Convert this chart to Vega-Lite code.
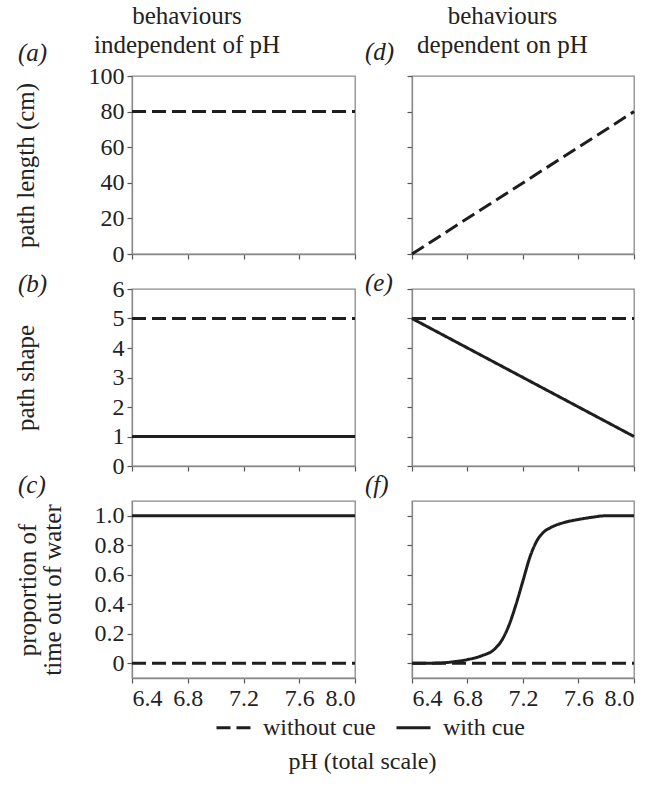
{
  "$schema": "https://vega.github.io/schema/vega-lite/v6.json",
  "background": "white",
  "padding": {"left": 12, "top": 3, "right": 5, "bottom": 5},
  "datasets": {
    "d": [
      {"panel": "a", "cue": "without cue", "ph": 6.4, "value": 80},
      {"panel": "a", "cue": "without cue", "ph": 8.0, "value": 80},
      {"panel": "b", "cue": "without cue", "ph": 6.4, "value": 5},
      {"panel": "b", "cue": "without cue", "ph": 8.0, "value": 5},
      {"panel": "b", "cue": "with cue", "ph": 6.4, "value": 1},
      {"panel": "b", "cue": "with cue", "ph": 8.0, "value": 1},
      {"panel": "c", "cue": "without cue", "ph": 6.4, "value": 0},
      {"panel": "c", "cue": "without cue", "ph": 8.0, "value": 0},
      {"panel": "c", "cue": "with cue", "ph": 6.4, "value": 1},
      {"panel": "c", "cue": "with cue", "ph": 8.0, "value": 1},
      {"panel": "d", "cue": "without cue", "ph": 6.4, "value": 0},
      {"panel": "d", "cue": "without cue", "ph": 8.0, "value": 80},
      {"panel": "e", "cue": "without cue", "ph": 6.4, "value": 5},
      {"panel": "e", "cue": "without cue", "ph": 8.0, "value": 5},
      {"panel": "e", "cue": "with cue", "ph": 6.4, "value": 5},
      {"panel": "e", "cue": "with cue", "ph": 8.0, "value": 1},
      {"panel": "f", "cue": "without cue", "ph": 6.4, "value": 0},
      {"panel": "f", "cue": "without cue", "ph": 8.0, "value": 0},
      {"panel": "f", "cue": "with cue", "ph": 6.4, "value": 0},
      {"panel": "f", "cue": "with cue", "ph": 6.5, "value": 0},
      {"panel": "f", "cue": "with cue", "ph": 6.6, "value": 0.002},
      {"panel": "f", "cue": "with cue", "ph": 6.7, "value": 0.01},
      {"panel": "f", "cue": "with cue", "ph": 6.8, "value": 0.025},
      {"panel": "f", "cue": "with cue", "ph": 6.9, "value": 0.05},
      {"panel": "f", "cue": "with cue", "ph": 7.0, "value": 0.1},
      {"panel": "f", "cue": "with cue", "ph": 7.05, "value": 0.16},
      {"panel": "f", "cue": "with cue", "ph": 7.1, "value": 0.26},
      {"panel": "f", "cue": "with cue", "ph": 7.15, "value": 0.4},
      {"panel": "f", "cue": "with cue", "ph": 7.2, "value": 0.56},
      {"panel": "f", "cue": "with cue", "ph": 7.25, "value": 0.72},
      {"panel": "f", "cue": "with cue", "ph": 7.3, "value": 0.83},
      {"panel": "f", "cue": "with cue", "ph": 7.35, "value": 0.89},
      {"panel": "f", "cue": "with cue", "ph": 7.4, "value": 0.92},
      {"panel": "f", "cue": "with cue", "ph": 7.5, "value": 0.955},
      {"panel": "f", "cue": "with cue", "ph": 7.6, "value": 0.975},
      {"panel": "f", "cue": "with cue", "ph": 7.7, "value": 0.99},
      {"panel": "f", "cue": "with cue", "ph": 7.8, "value": 1.0},
      {"panel": "f", "cue": "with cue", "ph": 8.0, "value": 1.0}
    ]
  },
  "config": {
    "font": "Liberation Serif",
    "view": {"stroke": "#8a8a8a", "strokeWidth": 1.3},
    "axis": {
      "labelFont": "Liberation Serif", "labelFontSize": 24, "labelColor": "#222",
      "titleFont": "Liberation Serif", "titleFontSize": 25, "titleFontWeight": "normal", "titleColor": "#222",
      "domainColor": "#8a8a8a", "domainWidth": 1.3, "tickColor": "#555", "tickSize": 5, "tickWidth": 1.2,
      "grid": false, "labelPadding": 3
    },
    "title": {"font": "Liberation Serif", "fontSize": 25, "fontWeight": "normal", "color": "#222"},
    "legend": {
      "labelFont": "Liberation Serif", "labelFontSize": 24, "labelColor": "#222"
    },
    "line": {"strokeWidth": 3, "color": "#1e1e1e"}
  },
  "title": {"text": "pH (total scale)", "orient": "bottom", "anchor": "middle", "fontSize": 24, "offset": 10, "dx": 36},
  "spacing": 2,
  "hconcat": [
    {
      "title": {"text": ["behaviours", "independent of pH"], "anchor": "middle", "lineHeight": 29, "offset": -18},
      "bounds": "flush",
      "spacing": 35,
      "vconcat": [
        {
          "width": 223, "height": 178,
          "title": {"text": "(a)", "anchor": "start", "frame": "group", "dx": -114, "dy": 6, "fontStyle": "italic"},
          "data": {"name": "d"},
          "transform": [{"filter": "datum.panel == 'a'"}],
          "mark": {"type": "line"},
          "encoding": {
            "x": {"field": "ph", "type": "quantitative", "scale": {"domain": [6.4, 8.0], "nice": false, "zero": false}, "axis": {"values": [6.4, 6.8, 7.2, 7.6, 8.0], "labels": false, "title": null}},
            "y": {"field": "value", "type": "quantitative", "scale": {"domain": [0, 100], "nice": false}, "axis": {"values": [0, 20, 40, 60, 80, 100], "title": "path length (cm)", "titleX": -94}},
            "strokeDash": {"field": "cue", "type": "nominal", "scale": {"domain": ["without cue", "with cue"], "range": [[14, 6], [1, 0]]},
              "legend": {"orient": "none", "legendX": 83, "legendY": 633, "direction": "horizontal", "title": null, "symbolType": "stroke", "symbolStrokeWidth": 3, "symbolSize": 1156, "symbolStrokeColor": "#1e1e1e", "columnPadding": 14, "labelOffset": 11}}
          }
        },
        {
          "width": 223, "height": 177,
          "title": {"text": "(b)", "anchor": "start", "frame": "group", "dx": -114, "dy": 24, "fontStyle": "italic"},
          "data": {"name": "d"},
          "transform": [{"filter": "datum.panel == 'b'"}],
          "mark": {"type": "line"},
          "encoding": {
            "x": {"field": "ph", "type": "quantitative", "scale": {"domain": [6.4, 8.0], "nice": false, "zero": false}, "axis": {"values": [6.4, 6.8, 7.2, 7.6, 8.0], "labels": false, "title": null}},
            "y": {"field": "value", "type": "quantitative", "scale": {"domain": [0, 6], "nice": false}, "axis": {"values": [0, 1, 2, 3, 4, 5, 6], "title": "path shape", "titleX": -94}},
            "strokeDash": {"field": "cue", "type": "nominal", "scale": {"domain": ["without cue", "with cue"], "range": [[14, 6], [1, 0]]}}
          }
        },
        {
          "width": 223, "height": 177,
          "title": {"text": "(c)", "anchor": "start", "frame": "group", "dx": -114, "dy": 1, "fontStyle": "italic"},
          "data": {"name": "d"},
          "transform": [{"filter": "datum.panel == 'c'"}],
          "mark": {"type": "line"},
          "encoding": {
            "x": {"field": "ph", "type": "quantitative", "scale": {"domain": [6.4, 8.0], "nice": false, "zero": false}, "axis": {"values": [6.4, 6.8, 7.2, 7.6, 8.0], "format": ".1f", "title": null}},
            "y": {"field": "value", "type": "quantitative", "scale": {"domain": [-0.1, 1.1], "nice": false, "zero": false}, "axis": {"values": [0, 0.2, 0.4, 0.6, 0.8, 1.0], "labelExpr": "datum.value == 0 ? '0' : format(datum.value, '.1f')", "title": ["proportion of", "time out of water"], "titleLineHeight": 25, "titleX": -92}},
            "strokeDash": {"field": "cue", "type": "nominal", "scale": {"domain": ["without cue", "with cue"], "range": [[14, 6], [1, 0]]}}
          }
        }
      ]
    },
    {
      "title": {"text": ["behaviours", "dependent on pH"], "anchor": "middle", "lineHeight": 29, "offset": -18},
      "bounds": "flush",
      "spacing": 35,
      "vconcat": [
        {
          "width": 222, "height": 178,
          "title": {"text": "(d)", "anchor": "start", "frame": "group", "dx": -47, "dy": -6, "fontStyle": "italic"},
          "data": {"name": "d"},
          "transform": [{"filter": "datum.panel == 'd'"}],
          "mark": {"type": "line"},
          "encoding": {
            "x": {"field": "ph", "type": "quantitative", "scale": {"domain": [6.4, 8.0], "nice": false, "zero": false}, "axis": {"values": [6.4, 6.8, 7.2, 7.6, 8.0], "labels": false, "title": null}},
            "y": {"field": "value", "type": "quantitative", "scale": {"domain": [0, 100], "nice": false}, "axis": {"values": [0, 20, 40, 60, 80, 100], "labels": false, "title": null}},
            "strokeDash": {"field": "cue", "type": "nominal", "scale": {"domain": ["without cue", "with cue"], "range": [[14, 6], [1, 0]]}}
          }
        },
        {
          "width": 222, "height": 177,
          "title": {"text": "(e)", "anchor": "start", "frame": "group", "dx": -47, "dy": 12, "fontStyle": "italic"},
          "data": {"name": "d"},
          "transform": [{"filter": "datum.panel == 'e'"}],
          "mark": {"type": "line"},
          "encoding": {
            "x": {"field": "ph", "type": "quantitative", "scale": {"domain": [6.4, 8.0], "nice": false, "zero": false}, "axis": {"values": [6.4, 6.8, 7.2, 7.6, 8.0], "labels": false, "title": null}},
            "y": {"field": "value", "type": "quantitative", "scale": {"domain": [0, 6], "nice": false}, "axis": {"values": [0, 1, 2, 3, 4, 5, 6], "labels": false, "title": null}},
            "strokeDash": {"field": "cue", "type": "nominal", "scale": {"domain": ["without cue", "with cue"], "range": [[14, 6], [1, 0]]}}
          }
        },
        {
          "width": 222, "height": 177,
          "title": {"text": "(f)", "anchor": "start", "frame": "group", "dx": -47, "dy": 1, "fontStyle": "italic"},
          "data": {"name": "d"},
          "transform": [{"filter": "datum.panel == 'f'"}],
          "mark": {"type": "line", "interpolate": "monotone"},
          "encoding": {
            "x": {"field": "ph", "type": "quantitative", "scale": {"domain": [6.4, 8.0], "nice": false, "zero": false}, "axis": {"values": [6.4, 6.8, 7.2, 7.6, 8.0], "format": ".1f", "title": null}},
            "y": {"field": "value", "type": "quantitative", "scale": {"domain": [-0.1, 1.1], "nice": false, "zero": false}, "axis": {"values": [0, 0.2, 0.4, 0.6, 0.8, 1.0], "labels": false, "title": null}},
            "strokeDash": {"field": "cue", "type": "nominal", "scale": {"domain": ["without cue", "with cue"], "range": [[14, 6], [1, 0]]}}
          }
        }
      ]
    }
  ]
}
